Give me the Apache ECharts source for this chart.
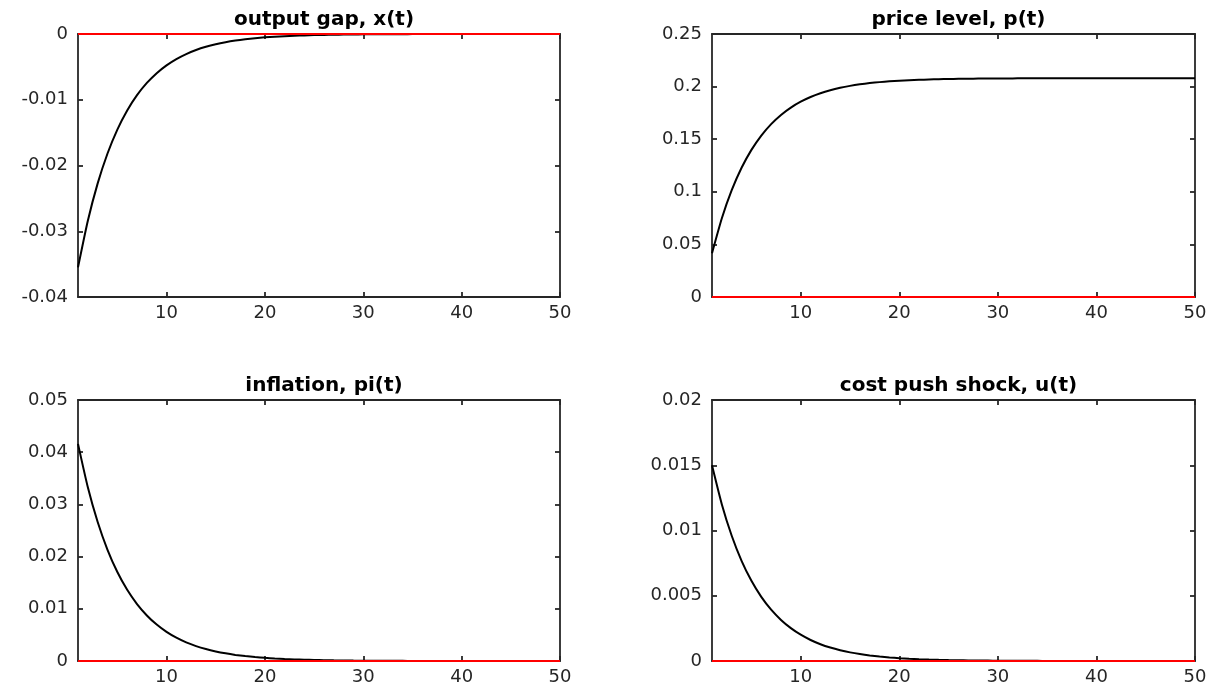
<!DOCTYPE html>
<html>
<head>
<meta charset="utf-8">
<script src="https://cdn.jsdelivr.net/npm/echarts@6/dist/echarts.min.js"></script>
<style>
html,body{margin:0;padding:0;background:#fff;}
#chart{width:1218px;height:692px;}
</style>
</head>
<body>
<div id="chart"></div>
<script>
// periods
var periods = [];
for (var i = 1; i <= 50; i++) periods.push(i);

var xTicks = [10, 20, 30, 40, 50];

var titles = ['output gap, x(t)', 'price level, p(t)', 'inflation, pi(t)', 'cost push shock, u(t)'];

var outputGap = [-0.0355, -0.0284, -0.02272, -0.018176, -0.014541, -0.011633, -0.009306, -0.007445, -0.005956, -0.004765,
  -0.003812, -0.003049, -0.00244, -0.001952, -0.001561, -0.001249, -0.000999, -0.000799, -0.00064, -0.000512,
  -0.000409, -0.000327, -0.000262, -0.00021, -0.000168, -0.000134, -0.000107, -0.000086, -0.000069, -0.000055,
  -0.000044, -0.000035, -0.000028, -0.000023, -0.000018, -0.000014, -0.000012, -0.000009, -0.000007, -0.000006,
  -0.000005, -0.000004, -0.000003, -0.000002, -0.000002, -0.000002, -0.000001, -0.000001, -0.000001, -0.000001];

var priceLevel = [0.0416, 0.07488, 0.101504, 0.122803, 0.139843, 0.153474, 0.164379, 0.173104, 0.180083, 0.185666,
  0.190133, 0.193707, 0.196565, 0.198852, 0.200682, 0.202146, 0.203317, 0.204253, 0.205003, 0.205602,
  0.206082, 0.206466, 0.206773, 0.207018, 0.207215, 0.207372, 0.207498, 0.207598, 0.207679, 0.207743,
  0.207795, 0.207836, 0.207869, 0.207895, 0.207916, 0.207933, 0.207946, 0.207957, 0.207966, 0.207973,
  0.207978, 0.207982, 0.207986, 0.207989, 0.207991, 0.207993, 0.207994, 0.207995, 0.207996, 0.207997];

var inflation = [0.0416, 0.03328, 0.026624, 0.021299, 0.017039, 0.013631, 0.010905, 0.008724, 0.006979, 0.005583,
  0.004467, 0.003573, 0.002859, 0.002287, 0.00183, 0.001464, 0.001171, 0.000937, 0.000749, 0.0006,
  0.00048, 0.000384, 0.000307, 0.000246, 0.000196, 0.000157, 0.000126, 0.000101, 0.00008, 0.000064,
  0.000052, 0.000041, 0.000033, 0.000026, 0.000021, 0.000017, 0.000014, 0.000011, 0.000009, 0.000007,
  0.000006, 0.000004, 0.000004, 0.000003, 0.000002, 0.000002, 0.000001, 0.000001, 0.000001, 0.000001];

var costPush = [0.015, 0.012, 0.0096, 0.00768, 0.006144, 0.004915, 0.003932, 0.003146, 0.002517, 0.002013,
  0.001611, 0.001288, 0.001031, 0.000825, 0.00066, 0.000528, 0.000422, 0.000338, 0.00027, 0.000216,
  0.000173, 0.000138, 0.000111, 0.000089, 0.000071, 0.000057, 0.000045, 0.000036, 0.000029, 0.000023,
  0.000019, 0.000015, 0.000012, 0.00001, 0.000008, 0.000006, 0.000005, 0.000004, 0.000003, 0.000002,
  0.000002, 0.000001, 0.000001, 0.000001, 0.000001, 0.000001, 0, 0, 0, 0];

var zeroLine = [0, 0, 0, 0, 0, 0, 0, 0, 0, 0, 0, 0, 0, 0, 0, 0, 0, 0, 0, 0, 0, 0, 0, 0, 0,
  0, 0, 0, 0, 0, 0, 0, 0, 0, 0, 0, 0, 0, 0, 0, 0, 0, 0, 0, 0, 0, 0, 0, 0, 0];

var yTicksGap = [-0.04, -0.03, -0.02, -0.01, 0];
var yTicksPrice = [0, 0.05, 0.1, 0.15, 0.2, 0.25];
var yTicksInfl = [0, 0.01, 0.02, 0.03, 0.04, 0.05];
var yTicksCost = [0, 0.005, 0.01, 0.015, 0.02];

var seriesValues = [outputGap, priceLevel, inflation, costPush];
var yTicks = [yTicksGap, yTicksPrice, yTicksInfl, yTicksCost];

var gridBoxes = [
  {left: 78, top: 34, width: 482, height: 263},
  {left: 712, top: 34, width: 483, height: 263},
  {left: 78, top: 400, width: 482, height: 261},
  {left: 712, top: 400, width: 483, height: 261}
];

var FONT = 'DejaVu Sans';
var AX = '#262626';

function pairs(vals) {
  return periods.map(function (p, i) { return [p, vals[i]]; });
}

var option = {
  animation: false,
  backgroundColor: '#ffffff',
  title: [],
  grid: [],
  xAxis: [],
  yAxis: [],
  series: []
};

gridBoxes.forEach(function (g, k) {
  option.grid.push({left: g.left, top: g.top, width: g.width, height: g.height, containLabel: false});
  option.title.push({
    text: titles[k],
    left: g.left + g.width / 2,
    top: g.top - 29,
    textAlign: 'center',
    textStyle: {fontFamily: FONT, fontWeight: 'bold', fontSize: 20, color: '#000'}
  });
  var lineStyle = {color: AX, width: 1.8};
  // bottom x axis
  option.xAxis.push({
    type: 'value', gridIndex: k, position: 'bottom', min: 1, max: 50,
    axisLine: {show: true, onZero: false, lineStyle: lineStyle},
    axisTick: {show: true, inside: true, length: 5, customValues: xTicks, lineStyle: lineStyle},
    axisLabel: {show: true, customValues: xTicks, margin: 7, color: AX, fontFamily: FONT, fontSize: 18,
      formatter: function (v) { return String(v); }},
    splitLine: {show: false}
  });
  // top x axis
  option.xAxis.push({
    type: 'value', gridIndex: k, position: 'top', min: 1, max: 50,
    axisLine: {show: true, onZero: false, lineStyle: lineStyle},
    axisTick: {show: true, inside: true, length: 5, customValues: xTicks, lineStyle: lineStyle},
    axisLabel: {show: false},
    splitLine: {show: false}
  });
  var yt = yTicks[k];
  option.yAxis.push({
    type: 'value', gridIndex: k, position: 'left', min: yt[0], max: yt[yt.length - 1],
    axisLine: {show: true, onZero: false, lineStyle: lineStyle},
    axisTick: {show: true, inside: true, length: 5, customValues: yt, lineStyle: lineStyle},
    axisLabel: {show: true, customValues: yt, margin: 10, color: AX, fontFamily: FONT, fontSize: 18,
      formatter: function (v) { return String(+Number(v).toFixed(6)); }},
    splitLine: {show: false}
  });
  option.yAxis.push({
    type: 'value', gridIndex: k, position: 'right', min: yt[0], max: yt[yt.length - 1],
    axisLine: {show: true, onZero: false, lineStyle: lineStyle},
    axisTick: {show: true, inside: true, length: 5, customValues: yt, lineStyle: lineStyle},
    axisLabel: {show: false},
    splitLine: {show: false}
  });
  option.series.push({
    type: 'line', xAxisIndex: 2 * k, yAxisIndex: 2 * k,
    data: pairs(seriesValues[k]), showSymbol: false, symbol: 'none', smooth: 0.2,
    lineStyle: {color: '#000000', width: 2}, z: 3
  });
  option.series.push({
    type: 'line', xAxisIndex: 2 * k, yAxisIndex: 2 * k, clip: false,
    data: pairs(zeroLine), showSymbol: false, symbol: 'none',
    lineStyle: {color: '#ff0000', width: 2.2}, z: 10
  });
});

var chart = echarts.init(document.getElementById('chart'), null, {renderer: 'canvas'});
chart.setOption(option);
</script>
</body>
</html>
